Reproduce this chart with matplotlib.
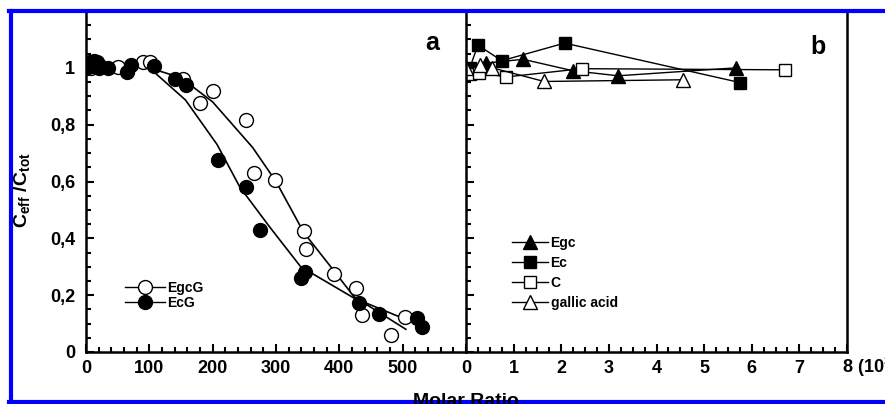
import numpy as np
import matplotlib
matplotlib.use('Agg')
import matplotlib.pyplot as plt
from matplotlib.lines import Line2D

plt.rcParams['font.family'] = ['Liberation Sans', 'DejaVu Sans']
plt.rcParams['font.weight'] = 'bold'
plt.rcParams['mathtext.fontset'] = 'custom'
plt.rcParams['mathtext.rm'] = 'Liberation Sans:bold'
plt.rcParams['mathtext.it'] = 'Liberation Sans:bold'
fonts = 13

# panel a data (molar ratio, Ceff/Ctot)
egcg_x = [0, 4, 8, 14, 20, 51, 90, 101, 153, 180, 201, 252, 266, 299, 344, 347, 391, 427, 435, 481, 503]
egcg_y = [1.0, 1.01, 1.0, 1.02, 1.01, 1.003, 1.02, 1.02, 0.96, 0.875, 0.92, 0.817, 0.63, 0.606, 0.427, 0.363, 0.274, 0.224, 0.13, 0.06, 0.124]
ecg_x = [0, 3, 6, 9, 13, 18, 21, 35, 64, 71, 107, 141, 158, 209, 252, 275, 339, 345, 431, 463, 522, 531]
ecg_y = [1.0, 1.01, 1.02, 1.005, 1.025, 1.02, 1.0, 1.0, 0.987, 1.01, 1.005, 0.96, 0.94, 0.676, 0.582, 0.43, 0.262, 0.283, 0.173, 0.133, 0.12, 0.088]
egcg_fit_x = [100, 150, 200, 263, 300, 344, 390, 423, 505]
egcg_fit_y = [1.0, 0.965, 0.88, 0.72, 0.60, 0.42, 0.29, 0.195, 0.08]
ecg_fit_x = [100, 157, 207, 243, 290, 339, 423, 510]
ecg_fit_y = [1.0, 0.887, 0.73, 0.58, 0.44, 0.30, 0.19, 0.11]

# panel b data
egc_x = [0, 0.43, 1.2, 2.24, 3.19, 5.67]
egc_y = [1.0, 1.017, 1.03, 0.99, 0.972, 1.0]
ec_x = [0, 0.08, 0.25, 0.75, 2.07, 5.76]
ec_y = [0.995, 1.0, 1.08, 1.025, 1.087, 0.948]
c_x = [0.08, 0.27, 0.85, 2.43, 6.7]
c_y = [0.98, 0.983, 0.968, 0.997, 0.993]
ga_x = [0, 0.3, 0.55, 1.64, 4.55]
ga_y = [1.0, 1.01, 1.0, 0.952, 0.958]

yticks = [0, 0.2, 0.4, 0.6, 0.8, 1.0]
ytick_labels = ['0', '0,2', '0,4', '0,6', '0,8', '1']

fig = plt.figure(figsize=(8.85, 4.04), dpi=100)
ax1 = fig.add_axes([86/885, 52/404, 380/885, 341/404])
ax2 = fig.add_axes([466/885, 52/404, 381/885, 341/404])

# panel a
ax1.plot(egcg_fit_x, egcg_fit_y, 'k-', lw=1.2)
ax1.plot(ecg_fit_x, ecg_fit_y, 'k-', lw=1.2)
ax1.plot(egcg_x, egcg_y, 'o', ms=10, mfc='white', mec='black', mew=1.0, ls='none')
ax1.plot(ecg_x, ecg_y, 'o', ms=10, mfc='black', mec='black', ls='none')
ax1.set_xlim(0, 600)
ax1.set_ylim(0, 1.2)
ax1.set_xticks(range(0, 501, 100))
ax1.set_xticks(range(0, 601, 20), minor=True)
ax1.set_yticks(yticks)
ax1.set_yticklabels(ytick_labels)
ax1.set_yticks(np.arange(0, 1.2, 0.05), minor=True)
ax1.spines['right'].set_visible(False)
ax1.spines['top'].set_visible(False)
h1 = [Line2D([], [], color='k', lw=1, marker='o', ms=10, mfc='white', mec='black'),
      Line2D([], [], color='k', lw=1, marker='o', ms=10, mfc='black', mec='black')]
ax1.legend(h1, ['EgcG', 'EcG'], loc='center left', bbox_to_anchor=(0.103, 0.166),
           frameon=False, fontsize=10, handlelength=2.9, handletextpad=0.15,
           labelspacing=0.1, borderpad=0, borderaxespad=0)
ax1.text(0.91, 0.905, 'a', transform=ax1.transAxes, fontsize=18, fontweight='bold', ha='center', va='center')

# panel b
ax2.plot(egc_x, egc_y, 'k-', lw=1, marker='^', ms=10, mfc='black', mec='black')
ax2.plot(ec_x, ec_y, 'k-', lw=1, marker='s', ms=9, mfc='black', mec='black')
ax2.plot(c_x, c_y, 'k-', lw=1, marker='s', ms=9, mfc='white', mec='black', mew=1.0)
ax2.plot(ga_x, ga_y, 'k-', lw=1, marker='^', ms=10, mfc='white', mec='black', mew=1.0)
ax2.set_xlim(0, 8)
ax2.set_ylim(0, 1.2)
ax2.set_xticks(range(0, 9))
ax2.set_xticklabels(['0', '1', '2', '3', '4', '5', '6', '7', ''])
ax2.set_xticks(np.arange(0, 8.01, 0.25), minor=True)
ax2.set_yticks(yticks)
ax2.set_yticklabels([])
ax2.set_yticks(np.arange(0, 1.2, 0.05), minor=True)
ax2.spines['top'].set_visible(False)
ax2.annotate('8 (10$^{3}$)', xy=(8, 0), xycoords='data', xytext=(-3.5, -11), textcoords='offset points',
             ha='left', va='center', fontsize=fonts, fontweight='bold', annotation_clip=False)
h2 = [Line2D([], [], color='k', lw=1, marker='^', ms=10, mfc='black', mec='black'),
      Line2D([], [], color='k', lw=1, marker='s', ms=9, mfc='black', mec='black'),
      Line2D([], [], color='k', lw=1, marker='s', ms=9, mfc='white', mec='black'),
      Line2D([], [], color='k', lw=1, marker='^', ms=10, mfc='white', mec='black')]
ax2.legend(h2, ['Egc', 'Ec', 'C', 'gallic acid'], loc='center left', bbox_to_anchor=(0.12, 0.232),
           frameon=False, fontsize=10, handlelength=2.6, handletextpad=0.2,
           labelspacing=0.45, borderpad=0, borderaxespad=0)
ax2.text(0.925, 0.895, 'b', transform=ax2.transAxes, fontsize=18, fontweight='bold', ha='center', va='center')

for ax in (ax1, ax2):
    ax.tick_params(which='both', direction='in', width=1.5, labelsize=fonts, pad=6)
    ax.tick_params(which='major', length=6)
    ax.tick_params(which='minor', length=3.5)
    for s in ax.spines.values():
        s.set_linewidth(1.8)
    for lab in ax.get_xticklabels() + ax.get_yticklabels():
        lab.set_fontweight('bold')
ax1.tick_params(axis='y', pad=8)
ax2.tick_params(axis='y', right=False)

fig.text(22/885, 1 - 190/404, r'C$_{\mathregular{eff}}$ /C$_{\mathregular{tot}}$', rotation=90,
         fontsize=14, fontweight='bold', ha='center', va='center')
fig.text(466/885, 1 - 406/404, 'Molar Ratio', fontsize=14, fontweight='bold', ha='center', va='baseline')

# blue frame
fig.add_artist(Line2D([11/885, 11/885], [0, 1 - 11/404], color='#0000ff', lw=3, transform=fig.transFigure))
fig.add_artist(Line2D([9/885, 1], [1 - 11/404, 1 - 11/404], color='#0000ff', lw=3, transform=fig.transFigure))
fig.add_artist(Line2D([9/885, 1], [2/404, 2/404], color='#0000ff', lw=3, transform=fig.transFigure))

fig.savefig('out.png', dpi=100)
